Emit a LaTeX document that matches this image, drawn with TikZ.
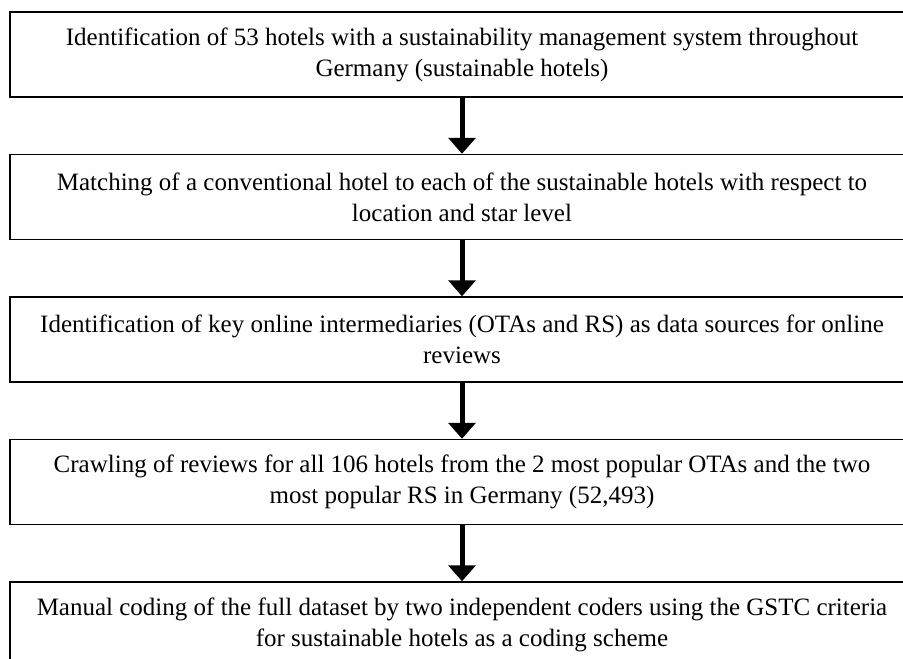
\documentclass[tikz,border=0pt]{standalone}
\usepackage{fontspec}
\setmainfont{Liberation Serif}
\usetikzlibrary{positioning, arrows.meta}
\tikzset{>={Triangle[width=27pt,length=16pt]}, node distance = 56pt}

\begin{document}
\begin{tikzpicture}[x=1pt, y=-1pt, step_box/.style ={rectangle, draw=black, line width=1.5pt, fill=white, minimum width=904pt, minimum height=85pt, align=center, inner sep=0pt, font=\fontsize{25}{31}\selectfont}, flow/.style={->, line width=5pt}]
    \useasboundingbox (0,0) rectangle (903,659);

    \node[step_box] (sustainable) at (462,54.5) {Identification of 53 hotels with a sustainability management system throughout\\ Germany (sustainable hotels)};
    \node[step_box, below=of sustainable] (matching) {Matching of a conventional hotel to each of the sustainable hotels with respect to\\ location and star level};
    \node[step_box, below=of matching] (sources) {Identification of key online intermediaries (OTAs and RS) as data sources for online\\ reviews};
    \node[step_box, below=of sources] (crawling) {Crawling of reviews for all 106 hotels from the 2 most popular OTAs and the two\\ most popular RS in Germany (52,493)};
    \node[step_box, below=of crawling] (coding) {Manual coding of the full dataset by two independent coders using the GSTC criteria\\ for sustainable hotels as a coding scheme};

    \foreach \a/\b in {sustainable/matching, matching/sources, sources/crawling, crawling/coding}
        \draw[flow] (\a) -- (\b);
\end{tikzpicture}
\end{document}
